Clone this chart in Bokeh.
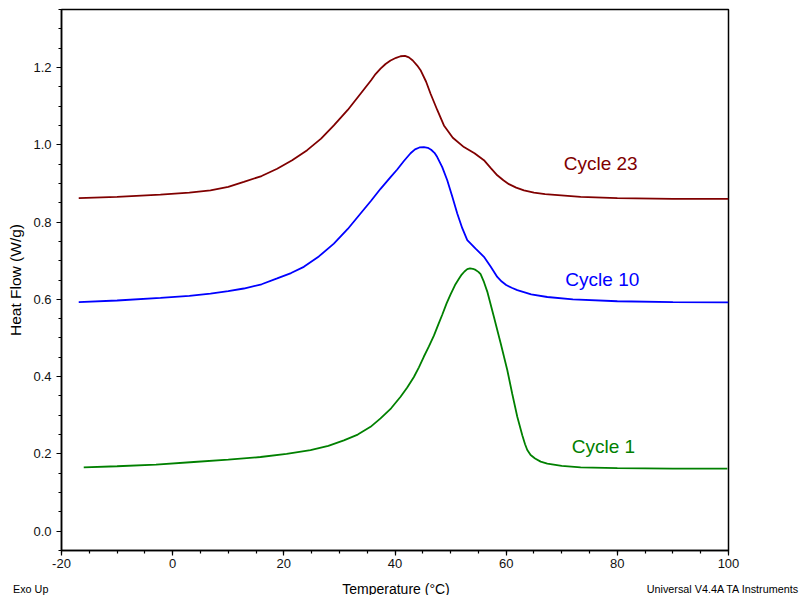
from bokeh.plotting import figure
from bokeh.models import FixedTicker, NumeralTickFormatter, Label, Range1d
from bokeh.layouts import column
from bokeh.embed import file_html
from bokeh.resources import INLINE

# ---- data ----
t23 = [-16.9, -10, -2.2, 3, 6.8, 10, 12.8, 16, 18.8, 21.5, 24.2, 26.7, 29.0, 31.5, 33.8, 35.7,
       36.5, 37.4, 38.3, 39.2, 40.2, 41.0, 41.8, 42.5, 43.2, 44.0, 44.6, 45.6, 46.4, 47.6, 48.8,
       50.4, 52.4, 54.3, 56.0, 57.2, 58.4, 59.5, 60.5, 61.8, 63.2, 65, 67, 73.4, 80, 90, 100]
h23 = [0.862, 0.865, 0.871, 0.876, 0.882, 0.891, 0.904, 0.919, 0.938, 0.960, 0.986, 1.016, 1.050,
       1.090, 1.132, 1.167, 1.183, 1.197, 1.209, 1.218, 1.225, 1.229, 1.230, 1.226, 1.218, 1.205,
       1.193, 1.163, 1.132, 1.090, 1.050, 1.018, 0.994, 0.978, 0.960, 0.940, 0.921, 0.908, 0.898,
       0.889, 0.882, 0.876, 0.872, 0.865, 0.862, 0.860, 0.860]

t10 = [-16.9, -10, -2.2, 3, 6.8, 10, 12.8, 16, 18.8, 21.3, 23.6, 26.3, 29.0, 31.5, 33.8, 35.7,
       37.4, 39.2, 40.4, 41.6, 42.8, 43.6, 44.4, 45.2, 45.9, 46.5, 47.1, 47.6, 48.5, 49.4, 50.3,
       51.2, 52.1, 53.0, 54.5, 56.0, 57.2, 58.4, 59.2, 60.0, 61.0, 62.0, 64.5, 67.4, 72, 80, 90, 100]
h10 = [0.593, 0.597, 0.604, 0.609, 0.615, 0.621, 0.628, 0.639, 0.654, 0.668, 0.684, 0.711, 0.744,
       0.782, 0.822, 0.855, 0.886, 0.916, 0.936, 0.958, 0.978, 0.988, 0.993, 0.994, 0.992, 0.987,
       0.979, 0.968, 0.942, 0.908, 0.866, 0.822, 0.784, 0.753, 0.731, 0.710, 0.685, 0.658, 0.646,
       0.637, 0.630, 0.624, 0.613, 0.606, 0.600, 0.595, 0.593, 0.592]

t1 = [-16.0, -10, -3, 3.8, 10, 15.8, 20.5, 24.8, 28, 30.8, 33.3, 35.6, 37.4, 39.3, 41.0, 42.2,
      43.4, 44.3, 45.2, 46.1, 47.0, 47.8, 48.5, 49.3, 50.0, 50.8, 51.5, 52.0, 52.5, 53.0, 53.5,
      54.0, 54.5, 55.0, 55.4, 56.0, 56.6, 57.8, 59.0, 60.2, 61.1, 62.0, 62.9, 63.4, 63.8, 64.4,
      65.2, 66.2, 67.4, 70, 73.4, 80, 90, 99.8]
h1 = [0.165, 0.168, 0.172, 0.179, 0.185, 0.192, 0.200, 0.210, 0.221, 0.235, 0.250, 0.270, 0.292,
      0.318, 0.348, 0.372, 0.399, 0.424, 0.452, 0.478, 0.506, 0.535, 0.560, 0.590, 0.613, 0.637,
      0.653, 0.664, 0.672, 0.678, 0.680, 0.679, 0.676, 0.671, 0.665, 0.645, 0.620, 0.554, 0.487,
      0.417, 0.355, 0.296, 0.248, 0.225, 0.210, 0.197, 0.188, 0.180, 0.175, 0.169, 0.165, 0.163,
      0.162, 0.162]

series_names = ["Cycle 23", "Cycle 10", "Cycle 1"]
series_colors = ["#800000", "#0000FF", "#008000"]
label_pos_t = [77.0, 77.3, 77.5]
label_pos_h = [0.952, 0.6525, 0.2204]

x_major = [-20, 0, 20, 40, 60, 80, 100]
x_minor = [v for v in range(-20, 101, 5)]
y_major = [0.0, 0.2, 0.4, 0.6, 0.8, 1.0, 1.2]
y_minor = [round(-0.05 + 0.05 * i, 2) for i in range(29)]

x_title = "Temperature (°C)"
y_title = "Heat Flow (W/g)"
footer_left = "Exo Up"
footer_right = "Universal V4.4A TA Instruments"

FONT = "Liberation Sans"

p = figure(width=800, height=573, output_backend="svg", toolbar_location=None,
           x_range=Range1d(-20, 100), y_range=Range1d(-0.05, 1.35),
           min_border_left=61, min_border_right=72, min_border_top=9, min_border_bottom=23)
p.grid.visible = False
p.outline_line_color = "#000000"
p.outline_line_width = 1.5

for ax in (p.xaxis[0], p.yaxis[0]):
    ax.axis_line_color = "#000000"
    ax.axis_line_width = 1.5
    ax.major_tick_line_color = "#000000"
    ax.minor_tick_line_color = "#000000"
    ax.major_tick_line_width = 1.2
    ax.minor_tick_line_width = 1.2
    ax.major_tick_out = 5
    ax.major_tick_in = 0
    ax.minor_tick_out = 3
    ax.minor_tick_in = 0
    ax.major_label_text_font = FONT
    ax.major_label_text_font_size = "13px"
    ax.major_label_text_color = "#111111"
    ax.axis_label_text_font = FONT
    ax.axis_label_text_font_size = "15.5px"
    ax.axis_label_text_font_style = "normal"
    ax.axis_label_text_color = "#000000"

p.xaxis.ticker = FixedTicker(ticks=x_major, minor_ticks=x_minor)
p.yaxis.ticker = FixedTicker(ticks=y_major, minor_ticks=y_minor)
p.xaxis.formatter = NumeralTickFormatter(format="0")
p.yaxis.formatter = NumeralTickFormatter(format="0.0")
p.yaxis.axis_label = y_title
p.xaxis.major_label_standoff = 3
p.yaxis.major_label_standoff = 5
p.yaxis.axis_label_standoff = 6

for tx, hy, c in zip([t23, t10, t1], [h23, h10, h1], series_colors):
    p.line(tx, hy, line_color=c, line_width=1.8)

for name, c, lx, ly in zip(series_names, series_colors, label_pos_t, label_pos_h):
    p.add_layout(Label(x=lx, y=ly, text=name, text_color=c, text_font=FONT,
                       text_font_size="19px", text_align="center", text_baseline="middle"))

# footer strip holding the x title and the instrument notes
f = figure(width=800, height=22, output_backend="svg", toolbar_location=None,
           x_range=Range1d(0, 1), y_range=Range1d(0, 1),
           x_axis_type=None, y_axis_type=None,
           min_border_left=0, min_border_right=0, min_border_top=0, min_border_bottom=0)
if "frame_align" in f.properties():
    f.frame_align = False
f.grid.visible = False
f.outline_line_color = None
f.add_layout(Label(x=12.5, y=7, x_units="screen", y_units="screen", text=footer_left,
                   text_font=FONT, text_font_size="10.8px", text_color="#000000",
                   text_align="left", text_baseline="alphabetic"))
f.add_layout(Label(x=395.5, y=7, x_units="screen", y_units="screen", text=x_title,
                   text_font=FONT, text_font_size="14px", text_color="#000000",
                   text_align="center", text_baseline="alphabetic"))
f.add_layout(Label(x=799, y=7, x_units="screen", y_units="screen", text=footer_right,
                   text_font=FONT, text_font_size="10.8px", text_color="#000000",
                   text_align="right", text_baseline="alphabetic"))

layout = column(p, f, spacing=0)
open("out.html", "w").write(file_html(layout, INLINE))
